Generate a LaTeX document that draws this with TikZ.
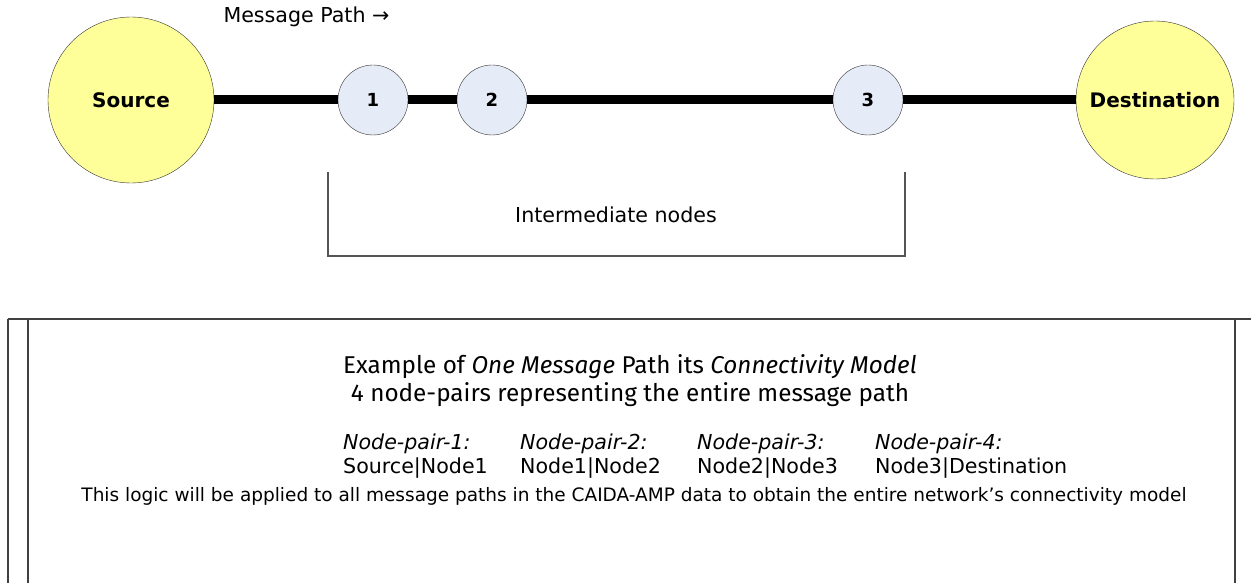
\documentclass[tikz,border=0pt]{standalone}
\usepackage{fontspec}
\setmainfont{DejaVu Sans}
\newfontfamily\titlefont{Fira Sans}
\usetikzlibrary{positioning}

\definecolor{endfill}{HTML}{FFFF99}
\definecolor{hopfill}{HTML}{E6ECF7}
\definecolor{rulegray}{HTML}{555555}

\tikzset{
    endpoint/.style={circle, draw=black!80, fill=endfill, minimum size=166pt,
        inner sep=0pt, font=\bfseries\fontsize{20}{24}\selectfont},
    hop/.style={circle, draw=black!80, fill=hopfill, minimum size=70pt,
        inner sep=0pt, font=\bfseries\fontsize{18}{22}\selectfont},
    route/.style={line width=9pt},
    plain/.style={font=\fontsize{20.6}{24}\selectfont}
}

\begin{document}
\begin{tikzpicture}[x=1pt, y=-1pt]
    \useasboundingbox (0,0) rectangle (1251,583);

    % message path
    \node[endpoint] (source) at (131,100) {Source};
    \node[endpoint, minimum size=158pt] (dest) at (1155,100) {Destination};
    \node[hop] (hop1) at (373,100) {1};
    \node[hop] (hop2) at (492,100) {2};
    \node[hop] (hop3) at (868,100) {3};
    \draw[route] (source) -- (hop1);
    \draw[route] (hop1) -- (hop2);
    \draw[route] (hop2) -- (hop3);
    \draw[route] (hop3) -- (dest);
    \node[plain, anchor=west] (pathlabel) at (220,17) {Message Path →};

    % intermediate nodes bracket
    \coordinate (brA) at (328,172);
    \coordinate (brB) at (905,172);
    \draw[rulegray, line width=1.5pt] (brA) -- (brA |- 0,256) -- (brB |- 0,256) -- (brB);
    \node[plain] (inter) at (616,215) {Intermediate nodes};

    % model box
    \draw[black!75, line width=1.5pt] (8,319) -- (1251,319);
    \draw[black!75, line width=1.5pt] (8,319) -- (8,583);
    \draw[black!75, line width=1.5pt] (28,319) -- (28,583);
    \draw[black!75, line width=1.5pt] (1235,319) -- (1235,583);
    \node[font=\titlefont\fontsize{24.3}{28}\selectfont, align=center] (title) at (630,381)
        {Example of \textit{One Message} Path its \textit{Connectivity Model}\\
         4 node-pairs representing the entire message path};
    \foreach \i/\x/\pair in {1/343/Source|Node1, 2/520/Node1|Node2,
                             3/697/Node2|Node3, 4/875/Node3|Destination}
        \node[plain, anchor=west, align=left, inner sep=0pt] (pair\i) at (\x,456)
            {\textit{Node-pair-\i:}\\\pair};
    \node[font=\fontsize{18.5}{22}\selectfont] (logic) at (634,496)
        {This logic will be applied to all message paths in the CAIDA-AMP data to obtain the entire network’s connectivity model};
\end{tikzpicture}
\end{document}
